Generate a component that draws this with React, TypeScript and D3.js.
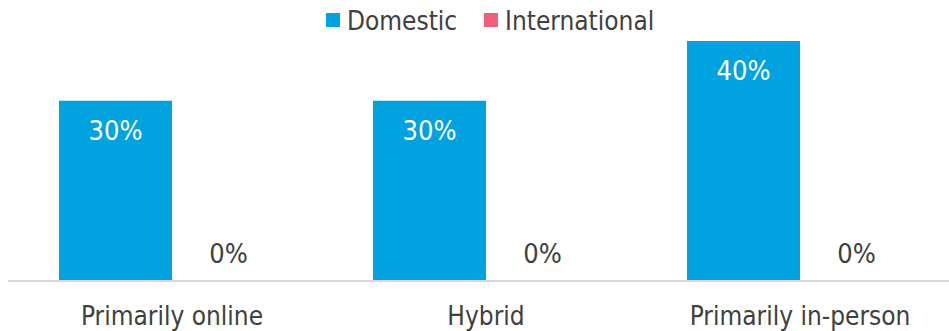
import React from "react";
import * as d3 from "d3";

const categories = ["Primarily online", "Hybrid", "Primarily in-person"];
const seriesNames = ["Domestic", "International"];
const domestic = [0.3, 0.3, 0.4];
const international = [0, 0, 0];
const colors = ["#00A2E0", "#F0607A"];

const W = 949;
const H = 331;
const FONT = "'DejaVu Sans Condensed', 'DejaVu Sans', sans-serif";

export default function App() {
  const baseline = 280;
  const x0 = d3.scaleBand<string>().domain(categories).range([15, 957]).paddingInner(0).paddingOuter(0);
  const x1 = d3.scaleBand<string>().domain(seriesNames).range([44, x0.bandwidth() - 44]).paddingInner(0).paddingOuter(0);
  const y = d3.scaleLinear().domain([0, 0.4]).range([baseline, 41]);
  const series = [domestic, international];
  const fmt = d3.format(".0%");

  return (
    <svg width={W} height={H} style={{ position: "absolute", left: 0, top: 0 }} fontFamily={FONT}>
      <rect width={W} height={H} fill="#fff" />
      {/* legend */}
      {seriesNames.map((s, i) => {
        const lx = [326, 484][i];
        return (
          <g key={s}>
            <rect x={lx} y={13} width={14} height={14} fill={colors[i]} />
            <text x={lx + 21} y={30} fontSize={26} fill="#404040">{s}</text>
          </g>
        );
      })}
      {/* bars */}
      {categories.map((c, ci) => (
        <g key={c} transform={`translate(${x0(c)},0)`}>
          {seriesNames.map((s, si) => {
            const v = series[si][ci];
            const bx = x1(s)!;
            const bw = x1.bandwidth();
            const top = y(v);
            return (
              <g key={s}>
                {v > 0 && <rect x={bx} y={top} width={bw} height={baseline - top} fill={colors[si]} />}
                <text
                  x={bx + bw / 2}
                  y={v > 0 ? top + 39 : baseline - 17}
                  textAnchor="middle"
                  fontSize={27}
                  fill={v > 0 ? "#fff" : "#404040"}
                >
                  {fmt(v)}
                </text>
              </g>
            );
          })}
          <text x={x0.bandwidth() / 2} y={325} textAnchor="middle" fontSize={26} fill="#404040">{c}</text>
        </g>
      ))}
      <line x1={8} x2={W} y1={baseline + 1} y2={baseline + 1} stroke="#D9D9D9" strokeWidth={2} />
    </svg>
  );
}
